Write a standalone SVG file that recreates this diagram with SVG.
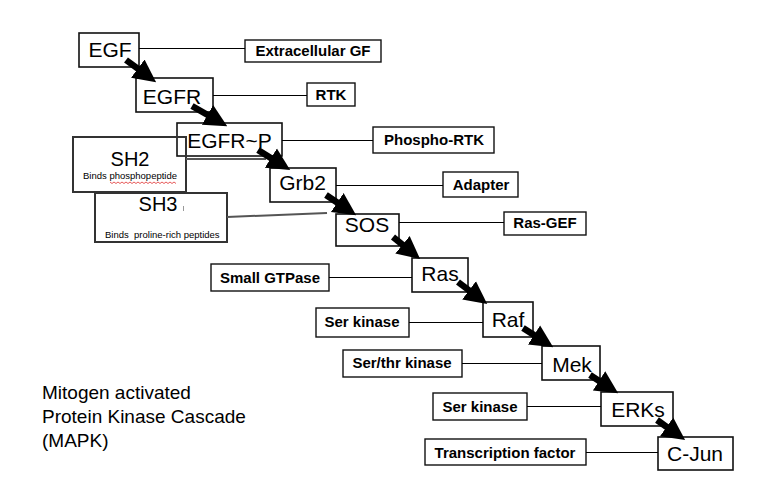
<svg xmlns="http://www.w3.org/2000/svg" width="765" height="482" viewBox="0 0 765 482">
<style>
.node{fill:none;stroke:#111;stroke-width:1.6}
.lab{fill:none;stroke:#111;stroke-width:1.4}
.sh{fill:none;stroke:#333;stroke-width:2}
.nt{font-family:"Liberation Sans",Arial,sans-serif;font-size:21px;fill:#000;text-anchor:middle}
.lt{font-family:"Liberation Sans",Arial,sans-serif;font-size:15px;font-weight:bold;fill:#000;text-anchor:middle}
.st{font-family:"Liberation Sans",Arial,sans-serif;font-size:20px;fill:#000;text-anchor:middle}
.sm{font-family:"Liberation Sans",Arial,sans-serif;font-size:9.5px;fill:#000}
.mt{font-family:"Liberation Sans",Arial,sans-serif;font-size:19px;fill:#000}
.thin{stroke:#000;stroke-width:1;fill:none}
.arr{stroke:#000;stroke-width:6.5;fill:none;marker-end:url(#ah)}
</style>
<defs>
<marker id="ah" viewBox="0 0 10 10" refX="4.1" refY="5" markerWidth="3.5" markerHeight="4" orient="auto" markerUnits="strokeWidth">
<path d="M0,0 L10,5 L0,10 z" fill="#000"/>
</marker>
</defs>
<rect width="765" height="482" fill="#fff"/>

<g id="EGF"><rect class="node" x="79" y="33" width="60" height="34"/><text class="nt" x="110" y="57">EGF</text></g>
<g id="EGFR"><rect class="node" x="136" y="78" width="77" height="34"/><text class="nt" x="172" y="104">EGFR</text></g>
<g id="EGFR-P"><rect class="node" x="177" y="123" width="105" height="33"/><text class="nt" x="229.5" y="148">EGFR~P</text></g>
<g id="Grb2"><rect class="node" x="270" y="168" width="66" height="34"/><text class="nt" x="302.5" y="190">Grb2</text></g>
<g id="SOS"><rect class="node" x="336" y="214" width="63" height="32"/><text class="nt" x="367" y="232">SOS</text></g>
<g id="Ras"><rect class="node" x="412" y="258" width="56" height="34"/><text class="nt" x="440" y="281">Ras</text></g>
<g id="Raf"><rect class="node" x="483" y="302" width="50" height="35"/><text class="nt" x="508" y="327">Raf</text></g>
<g id="Mek"><rect class="node" x="542" y="346" width="58" height="34"/><text class="nt" x="572" y="372">Mek</text></g>
<g id="ERKs"><rect class="node" x="601" y="392" width="72" height="34"/><text class="nt" x="638" y="417">ERKs</text></g>
<g id="CJun"><rect class="node" x="658" y="437" width="75" height="33"/><text class="nt" x="695" y="461">C-Jun</text></g>

<g id="lab-extracellular"><rect class="lab" x="245" y="40" width="136" height="22"/><text class="lt" x="313" y="56">Extracellular GF</text></g>
<g id="lab-rtk"><rect class="lab" x="307" y="83" width="48" height="23"/><text class="lt" x="331" y="100">RTK</text></g>
<g id="lab-phospho"><rect class="lab" x="373" y="127" width="121" height="26"/><text class="lt" x="434" y="145">Phospho-RTK</text></g>
<g id="lab-adapter"><rect class="lab" x="443" y="172" width="75" height="25"/><text class="lt" x="481" y="190">Adapter</text></g>
<g id="lab-rasgef"><rect class="lab" x="504" y="212" width="82" height="23"/><text class="lt" x="545" y="228">Ras-GEF</text></g>
<g id="lab-gtpase"><rect class="lab" x="211" y="264" width="118" height="27"/><text class="lt" x="270" y="283">Small GTPase</text></g>
<g id="lab-serk1"><rect class="lab" x="316" y="308" width="93" height="29"/><text class="lt" x="362" y="327">Ser kinase</text></g>
<g id="lab-serthr"><rect class="lab" x="343" y="350" width="119" height="27"/><text class="lt" x="402" y="368">Ser/thr kinase</text></g>
<g id="lab-serk2"><rect class="lab" x="433" y="393" width="94" height="27"/><text class="lt" x="480" y="412">Ser kinase</text></g>
<g id="lab-tf"><rect class="lab" x="425" y="439" width="161" height="26"/><text class="lt" x="505" y="458">Transcription factor</text></g>

<g id="SH2"><rect class="sh" x="73" y="137" width="113" height="55"/><text class="st" x="130" y="166">SH2</text><text class="sm" x="83" y="179">Binds phosphopeptide</text>
<polyline points="110,182 112,183.5 114,182 116,183.5 118,182 120,183.5 122,182 124,183.5 126,182 128,183.5 130,182 132,183.5 134,182 136,183.5 138,182 140,183.5 142,182 144,183.5 146,182 148,183.5 150,182 152,183.5 154,182 156,183.5 158,182 160,183.5 162,182 164,183.5 166,182 168,183.5 170,182 172,183.5 174,182 176,183.5" fill="none" stroke="#e03030" stroke-width="0.8"/></g>
<g id="SH3"><rect class="sh" x="95" y="193" width="132" height="49"/><text class="st" x="158" y="211">SH3</text><line x1="183.5" y1="206" x2="183.5" y2="211" stroke="#999" stroke-width="1"/><text class="sm" x="105" y="238">Binds&#160; proline-rich peptides</text></g>

<g id="MAPK-title"><text class="mt" x="42" y="399">Mitogen activated</text><text class="mt" x="42" y="423">Protein Kinase Cascade</text><text class="mt" x="42" y="447">(MAPK)</text></g>

<g id="connectors">
<line class="thin" x1="139" y1="48.5" x2="245" y2="48.5"/>
<line class="thin" x1="213" y1="95.5" x2="307" y2="95.5"/>
<line class="thin" x1="282" y1="140.5" x2="373" y2="140.5"/>
<line class="thin" x1="336" y1="185.5" x2="443" y2="185.5"/>
<line class="thin" x1="399" y1="222.5" x2="504" y2="222.5"/>
<line class="thin" x1="329" y1="277.5" x2="412" y2="277.5"/>
<line class="thin" x1="409" y1="322.5" x2="483" y2="322.5"/>
<line class="thin" x1="462" y1="363.5" x2="542" y2="363.5"/>
<line class="thin" x1="527" y1="406.5" x2="601" y2="406.5"/>
<line class="thin" x1="586" y1="452.5" x2="658" y2="452.5"/>
<line x1="186" y1="159" x2="266" y2="159" stroke="#555" stroke-width="2"/>
<line x1="227" y1="217" x2="327" y2="213" stroke="#555" stroke-width="2"/>
<line class="arr" x1="126" y1="60" x2="145.3" y2="74.2"/>
<line class="arr" x1="192" y1="106" x2="215.6" y2="119.5"/>
<line class="arr" x1="258" y1="150" x2="278.8" y2="163"/>
<line class="arr" x1="326" y1="195" x2="345" y2="207.7"/>
<line class="arr" x1="393" y1="237" x2="409.7" y2="250.6"/>
<line class="arr" x1="458" y1="282" x2="476.5" y2="296"/>
<line class="arr" x1="523" y1="328" x2="541.9" y2="340"/>
<line class="arr" x1="590" y1="375" x2="606.9" y2="385.9"/>
<line class="arr" x1="657" y1="420" x2="674.2" y2="432.3"/>
</g>
</svg>
